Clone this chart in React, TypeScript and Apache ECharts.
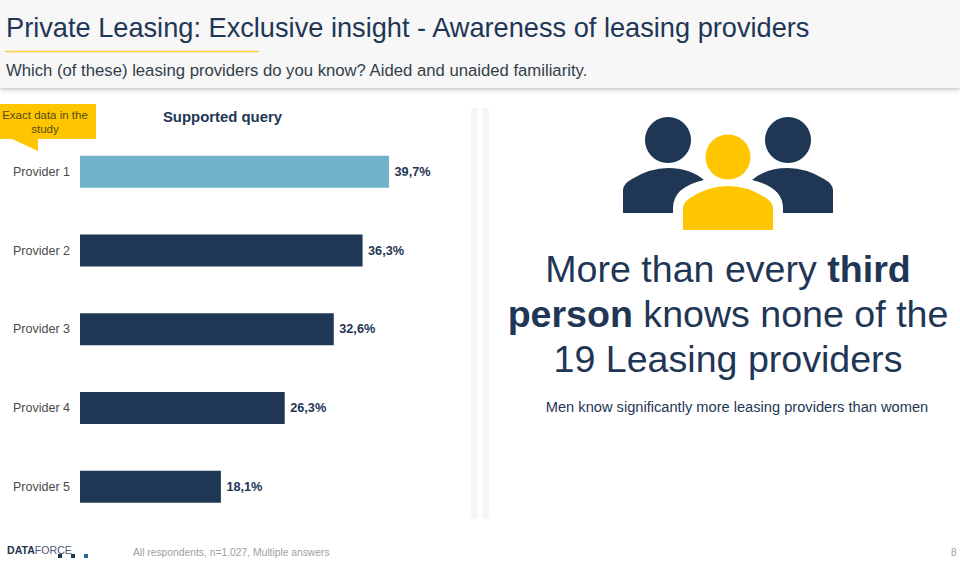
import React, { useEffect, useRef } from "react";
import * as echarts from "echarts";

const categories = ["Provider 1", "Provider 2", "Provider 3", "Provider 4", "Provider 5"];
const values = [39.7, 36.3, 32.6, 26.3, 18.1];
const barColors = ["#70b2c9", "#1f3655", "#1f3655", "#1f3655", "#1f3655"];

const NAVY = "#1f3655";
const YELLOW = "#fdc600";
const FONT = '"Liberation Sans", Arial, sans-serif';

const sideBody = "M623 213 L623 190 Q623 184 632 179 Q650 168 668 168 Q690 168 704 180 Q673 187 673 208 L673 213 Z";
const sideBodyRight = "M833 213 L833 190 Q833 184 824 179 Q806 168 788 168 Q766 168 752 180 Q783 187 783 208 L783 213 Z";
const midBody = "M683 230 L683 208 Q683 203 690 198 Q708 186 728 186 Q748 186 766 198 Q773 203 773 208 L773 230 Z";

echarts.graphic.registerShape("sideBody", echarts.graphic.extendPath(sideBody, {}));
echarts.graphic.registerShape("sideBodyRight", echarts.graphic.extendPath(sideBodyRight, {}));
echarts.graphic.registerShape("midBody", echarts.graphic.extendPath(midBody, {}));

export default function App() {
  const ref = useRef<HTMLDivElement>(null);
  useEffect(() => {
    const chart = echarts.init(ref.current!, null, { renderer: "svg" });
    chart.setOption({
      animation: false,
      backgroundColor: "#ffffff",
      textStyle: { fontFamily: FONT },
      title: {
        text: "Supported query",
        left: 217.5,
        top: 104,
        textAlign: "center",
        textStyle: { fontSize: 14.9, fontWeight: "bold", color: NAVY, fontFamily: FONT },
      },
      grid: { left: 80, top: 132.5, width: 389.2, height: 393.5 },
      xAxis: { type: "value", min: 0, max: 50, show: false },
      yAxis: {
        type: "category",
        inverse: true,
        data: categories,
        axisLine: { show: false },
        axisTick: { show: false },
        axisLabel: { fontSize: 12.5, color: "#4a4a4a", margin: 10, fontFamily: FONT },
      },
      series: [
        {
          type: "bar",
          barWidth: 32,
          data: values.map((v, i) => ({ value: v, itemStyle: { color: barColors[i] } })),
          label: {
            show: true,
            position: "right",
            distance: 5.5,
            fontSize: 12.7,
            fontWeight: "bold",
            color: NAVY,
            fontFamily: FONT,
            formatter: (p: any) => p.value.toFixed(1).replace(".", ",") + "%",
          },
        },
      ],
      graphic: [
        { type: "rect", z: -1, shape: { x: 0, y: 0, width: 960, height: 88 }, style: { fill: "#f7f7f8", shadowBlur: 5, shadowColor: "rgba(0,0,0,0.3)", shadowOffsetY: 1 } },
        { type: "text", x: 6, y: 27, style: { text: "Private Leasing: Exclusive insight - Awareness of leasing providers", font: `27.2px ${FONT}`, fill: NAVY, verticalAlign: "middle" } },
        { type: "line", shape: { x1: 5, y1: 51.5, x2: 259, y2: 51.5 }, style: { stroke: "#fbcf3a", lineWidth: 1.5 } },
        { type: "text", x: 6, y: 70, style: { text: "Which (of these) leasing providers do you know? Aided and unaided familiarity.", font: `16.7px ${FONT}`, fill: "#333f48", verticalAlign: "middle" } },

        { type: "polygon", shape: { points: [[0, 104], [96, 104], [96, 139], [38, 139], [38, 151], [12, 139], [0, 139]] }, style: { fill: YELLOW } },
        { type: "text", x: 45, y: 115, style: { text: "Exact data in the", font: `11.5px ${FONT}`, fill: "#5a4a10", align: "center", verticalAlign: "middle" } },
        { type: "text", x: 45, y: 129, style: { text: "study", font: `11.5px ${FONT}`, fill: "#5a4a10", align: "center", verticalAlign: "middle" } },

        { type: "rect", shape: { x: 471, y: 108, width: 7, height: 411 }, style: { fill: "#f6f6f6" } },
        { type: "rect", shape: { x: 482, y: 108, width: 7, height: 411 }, style: { fill: "#f6f6f6" } },

        { type: "circle", shape: { cx: 668, cy: 140, r: 23 }, style: { fill: NAVY } },
        { type: "circle", shape: { cx: 788, cy: 140, r: 23 }, style: { fill: NAVY } },
        { type: "sideBody", x: 0, y: 0, style: { fill: NAVY } },
        { type: "sideBodyRight", x: 0, y: 0, style: { fill: NAVY } },
        { type: "circle", shape: { cx: 728, cy: 157, r: 22.5 }, style: { fill: YELLOW } },
        { type: "midBody", x: 0, y: 0, style: { fill: YELLOW } },

        {
          type: "text",
          x: 728,
          y: 314,
          style: {
            text: "{n|More than every }{b|third}\n{b|person}{n| knows none of the}\n{n|19 Leasing providers}",
            align: "center",
            verticalAlign: "middle",
            rich: {
              n: { font: `37.6px ${FONT}`, fill: NAVY, lineHeight: 45 },
              b: { font: `bold 37.6px ${FONT}`, fill: NAVY, lineHeight: 45 },
            },
          },
        },
        { type: "text", x: 737, y: 407, style: { text: "Men know significantly more leasing providers than women", font: `14.65px ${FONT}`, fill: NAVY, align: "center", verticalAlign: "middle" } },

        {
          type: "text",
          x: 7,
          y: 550,
          style: {
            text: "{b|DATA}{n|FORCE}",
            verticalAlign: "middle",
            rich: {
              b: { font: `bold 10.6px ${FONT}`, fill: NAVY },
              n: { font: `10.6px ${FONT}`, fill: "#4a5a70" },
            },
          },
        },
        { type: "rect", shape: { x: 58, y: 554, width: 4, height: 4 }, style: { fill: NAVY } },
        { type: "rect", shape: { x: 71, y: 554, width: 4, height: 4 }, style: { fill: NAVY } },
        { type: "rect", shape: { x: 84, y: 554, width: 4, height: 4 }, style: { fill: "#2a6a92" } },
        { type: "text", x: 133, y: 552, style: { text: "All respondents, n=1.027, Multiple answers", font: `10.3px ${FONT}`, fill: "#a0a0a0", verticalAlign: "middle" } },
        { type: "text", x: 951, y: 552, style: { text: "8", font: `10px ${FONT}`, fill: "#a0a0a0", verticalAlign: "middle" } },
      ],
    });
    return () => chart.dispose();
  }, []);
  return <div ref={ref} style={{ position: "fixed", left: 0, top: 0, width: 960, height: 565 }} />;
}
